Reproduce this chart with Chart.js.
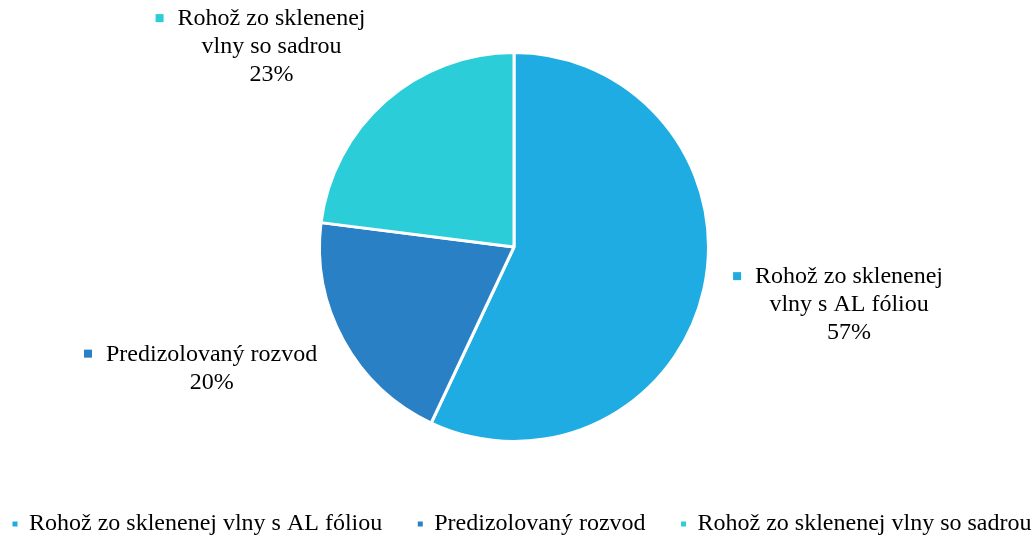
<!DOCTYPE html>
<html>
<head>
<meta charset="utf-8">
<script src="https://cdn.jsdelivr.net/npm/chart.js@4/dist/chart.umd.min.js"></script>
<style>
  html, body { margin: 0; padding: 0; background: #ffffff; }
  #wrap { width: 1033px; height: 536px; position: relative; }
</style>
</head>
<body>
<div id="wrap"><canvas id="c"></canvas></div>
<script>
const categories = ['Rohož zo sklenenej vlny s AL fóliou', 'Predizolovaný rozvod', 'Rohož zo sklenenej vlny so sadrou'];
const values = [57, 20, 23];
const labelLines = [['Rohož zo sklenenej', 'vlny s AL fóliou'], ['Predizolovaný rozvod'], ['Rohož zo sklenenej', 'vlny so sadrou']];
const colors = ['#1FACE2', '#2A80C5', '#2BCED8'];

const FONT = '"Liberation Serif", "Times New Roman", serif';

const areaShift = {
  id: 'areaShift',
  afterLayout(chart) {
    const a = chart.chartArea;
    a.right -= 5;
    a.width = a.right - a.left;
  }
};

const outsideLabels = {
  id: 'outsideLabels',
  afterDatasetsDraw(chart) {
    const ctx = chart.ctx;
    const meta = chart.getDatasetMeta(0);
    const data = chart.data.datasets[0].data;
    const total = data.reduce((a, b) => a + b, 0);
    ctx.save();
    ctx.font = '24px ' + FONT;
    ctx.textAlign = 'center';
    ctx.textBaseline = 'middle';
    const lh = 28, markerW = 22;
    meta.data.forEach((arc, i) => {
      const p = arc.getProps(['x', 'y', 'startAngle', 'endAngle', 'outerRadius'], true);
      const mid = (p.startAngle + p.endAngle) / 2;
      const cos = Math.cos(mid), sin = Math.sin(mid);
      const lines = labelLines[i].concat([Math.round(data[i] / total * 100) + '%']);
      const tw = Math.max(...lines.map(l => ctx.measureText(l).width));
      const w = markerW + tw, h = lines.length * lh;
      const d = 30;
      const ax = p.x + (p.outerRadius + d) * cos;
      const ay = p.y + (p.outerRadius + d) * sin;
      const left = cos >= 0 ? ax : ax - w;
      const top = ay + sin * h / 2 - h / 2;
      ctx.fillStyle = colors[i];
      ctx.fillRect(left, top + lh / 2 - 5, 8, 8);
      ctx.fillStyle = '#000000';
      lines.forEach((l, k) => {
        ctx.fillText(l, left + markerW + tw / 2, top + lh / 2 + k * lh);
      });
    });
    ctx.restore();
  }
};

new Chart(document.getElementById('c'), {
  type: 'pie',
  data: {
    labels: categories,
    datasets: [{
      data: values,
      backgroundColor: colors,
      borderColor: '#ffffff',
      borderWidth: 3,
      radius: 194.5
    }]
  },
  options: {
    responsive: true,
    maintainAspectRatio: false,
    animation: false,
    layout: { padding: { left: -23, right: -40, top: 18, bottom: -10 } },
    plugins: {
      tooltip: { enabled: false },
      legend: {
        position: 'bottom',
        align: 'start',
        labels: {
          font: { family: FONT, size: 24 },
          color: '#000000',
          usePointStyle: true,
          pointStyle: 'rect',
          boxWidth: 4,
          boxHeight: 8,
          padding: 36
        }
      }
    }
  },
  plugins: [areaShift, outsideLabels]
});
</script>
</body>
</html>
